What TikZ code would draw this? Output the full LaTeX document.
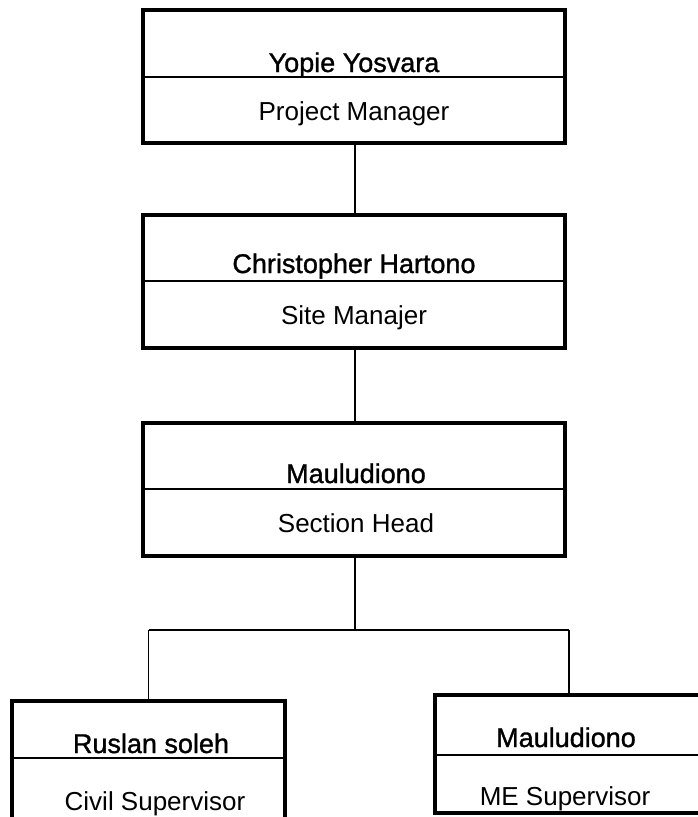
\documentclass[tikz,border=0pt]{standalone}
\usepackage{fontspec}
\setmainfont{Liberation Sans}
\newfontfamily\namefont[FakeBold=1.2]{Liberation Sans}
\begin{document}
\begin{tikzpicture}[x=1pt,y=-1pt,
  box/.style={draw=black, line width=3.2pt, fill=none, inner sep=0pt},
  divider/.style={draw=black, line width=1.3pt},
  link/.style={draw=black, line width=1.1pt},
  person/.style={font=\namefont\fontsize{27}{30}\selectfont, anchor=base, inner sep=0pt},
  role/.style={font=\fontsize{26}{30}\selectfont, anchor=base, inner sep=0pt}]
\useasboundingbox (0,0) rectangle (698,817);
\clip (0,0) rectangle (698,817);
% boxes
\node[box, minimum width=422pt, minimum height=133pt] (b1) at (354,76.5) {};
\node[box, minimum width=422pt, minimum height=133pt] (b2) at (354,281.5) {};
\node[box, minimum width=422pt, minimum height=133pt] (b3) at (354,489.5) {};
\node[box, minimum width=273pt, minimum height=120pt] (b4) at (148.5,761) {};
\node[box, minimum width=268pt, minimum height=118pt] (b5) at (569,754) {};
% dividers
\draw[divider] (b1.west |- 0,77) -- (b1.east |- 0,77);
\draw[divider] (b2.west |- 0,281) -- (b2.east |- 0,281);
\draw[divider] (b3.west |- 0,489) -- (b3.east |- 0,489);
\draw[divider] (b4.west |- 0,758) -- (b4.east |- 0,758);
\draw[divider] (b5.west |- 0,755) -- (b5.east |- 0,755);
% texts
\node[person] (n1) at (354,72) {Yopie Yosvara};
\node[role] (r1) at (354,120) {Project Manager};
\node[person] (n2) at (354,273) {Christopher Hartono};
\node[role] (r2) at (354,324) {Site Manajer};
\node[person] (n3) at (356,483) {Mauludiono};
\node[role] (r3) at (356,532) {Section Head};
\node[person] (n4) at (151,753) {Ruslan soleh};
\node[role] (r4) at (155,810) {Civil Supervisor};
\node[person] (n5) at (566,747) {Mauludiono};
\node[role] (r5) at (565,805) {ME Supervisor};
% connectors
\coordinate (j) at (355,630);
\coordinate (jl) at (148.5,630);
\coordinate (jr) at (569,630);
\draw[link] (b1.south -| 355,0) -- (b2.north -| 355,0);
\draw[link] (b2.south -| 355,0) -- (b3.north -| 355,0);
\draw[link] (b3.south -| 355,0) -- (j);
\draw[link] (jl) -- (jr);
\draw[link] (jl) -- (b4.north);
\draw[link] (jr) -- (b5.north);
\end{tikzpicture}
\end{document}
